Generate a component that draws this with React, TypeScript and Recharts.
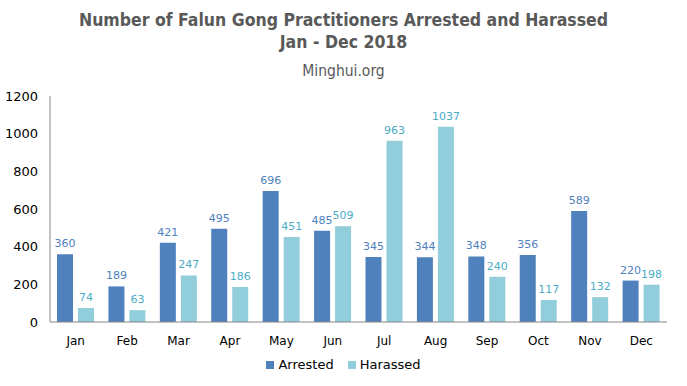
import React from "react";
import { BarChart, Bar, XAxis, YAxis, LabelList } from "recharts";

const months = ["Jan", "Feb", "Mar", "Apr", "May", "Jun", "Jul", "Aug", "Sep", "Oct", "Nov", "Dec"];
const arrested = [360, 189, 421, 495, 696, 485, 345, 344, 348, 356, 589, 220];
const harassed = [74, 63, 247, 186, 451, 509, 963, 1037, 240, 117, 132, 198];
const yTicks = [0, 200, 400, 600, 800, 1000, 1200];

const ARRESTED = "#4F81BD";
const HARASSED = "#92CDDC";

const data = months.map((m, i) => ({ month: m, arrested: arrested[i], harassed: harassed[i] }));

export default function App() {
  return (
    <div style={{ position: "absolute", left: 0, top: 0, width: 687, height: 386, background: "#fff", fontFamily: "'DejaVu Sans', Verdana, sans-serif" }}>
      <div style={{ position: "absolute", top: 9, left: 0, width: 687, textAlign: "center", color: "#595959", fontFamily: "'DejaVu Sans Condensed', 'DejaVu Sans', sans-serif", fontWeight: "bold", fontSize: 17.5, lineHeight: "22px" }}>
        Number of Falun Gong Practitioners Arrested and Harassed
        <br />
        Jan - Dec 2018
      </div>
      <div style={{ position: "absolute", top: 62, left: 0, width: 687, textAlign: "center", color: "#595959", fontFamily: "'DejaVu Sans Condensed', 'DejaVu Sans', sans-serif", fontSize: 15.5 }}>
        Minghui.org
      </div>
      <BarChart width={687} height={386} data={data} margin={{ top: 96, right: 20, bottom: 34, left: 0 }} barSize={16} barGap={5}>
        <XAxis dataKey="month" stroke="#868686" tickLine={false} tick={{ fill: "#000", fontSize: 12 }} tickMargin={8} />
        <YAxis domain={[0, 1200]} ticks={yTicks} width={50} stroke="#868686" tickLine={false} tick={{ fill: "#000", fontSize: 13 }} tickMargin={6} />
        <Bar dataKey="arrested" fill={ARRESTED} isAnimationActive={false}>
          <LabelList dataKey="arrested" position="top" offset={7} fill="#4F81BD" fontSize={11} />
        </Bar>
        <Bar dataKey="harassed" fill={HARASSED} isAnimationActive={false}>
          <LabelList dataKey="harassed" position="top" offset={7} fill="#4BACC6" fontSize={11} />
        </Bar>
      </BarChart>
      <div style={{ position: "absolute", top: 357, left: 0, width: 687, display: "flex", justifyContent: "center", fontSize: 13, color: "#000" }}>
        <span style={{ display: "flex", alignItems: "center", marginRight: 14 }}>
          <span style={{ width: 8, height: 8, background: ARRESTED, marginRight: 4, display: "inline-block" }} />
          Arrested
        </span>
        <span style={{ display: "flex", alignItems: "center" }}>
          <span style={{ width: 8, height: 8, background: HARASSED, marginRight: 4, display: "inline-block" }} />
          Harassed
        </span>
      </div>
    </div>
  );
}
